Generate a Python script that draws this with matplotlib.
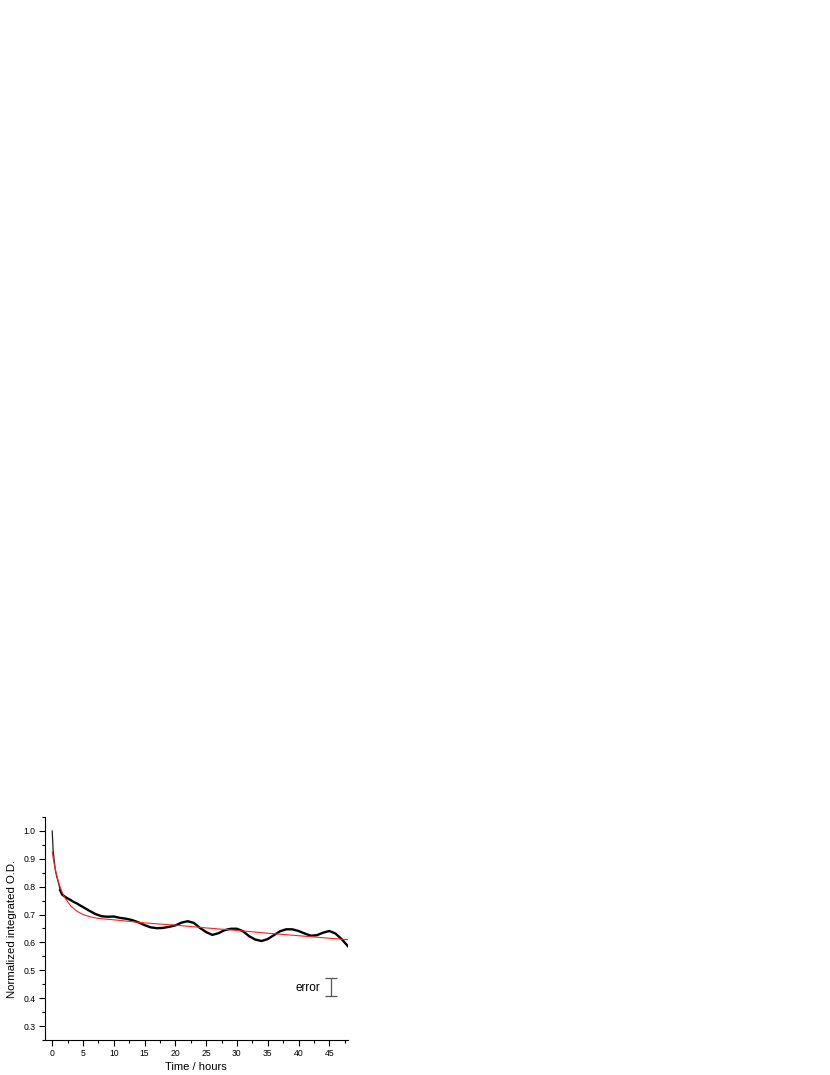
import matplotlib
matplotlib.use("Agg")
import matplotlib.pyplot as plt
from matplotlib.ticker import MultipleLocator

plt.rcParams['font.family'] = ['Liberation Sans', 'DejaVu Sans']

# measured data (black)
time_h = [0, 0.15, 0.3, 0.5, 0.75, 1, 1.3, 1.6, 2, 2.5, 3, 3.5, 4, 4.5, 5, 6, 7, 8, 9, 10,
          11, 12, 13, 14, 15, 16, 17, 18, 19, 20, 21, 22, 23, 24, 25, 26, 27, 28,
          29, 30, 31, 32, 33, 34, 35, 36, 37, 38, 39, 40, 41, 42, 43, 44, 45, 46, 47, 48]
od = [1.00, 0.93, 0.90, 0.86, 0.835, 0.815, 0.787, 0.772, 0.765, 0.758, 0.752, 0.745, 0.740,
      0.733, 0.727, 0.714, 0.702, 0.694, 0.692, 0.693,
      0.688, 0.685, 0.680, 0.672, 0.662, 0.654, 0.651, 0.652, 0.656, 0.661, 0.671, 0.676,
      0.670, 0.652, 0.637, 0.627, 0.633, 0.644, 0.649, 0.649, 0.640, 0.622, 0.610, 0.605,
      0.612, 0.626, 0.640, 0.647, 0.647, 0.641, 0.632, 0.624, 0.626, 0.635, 0.641, 0.632,
      0.612, 0.587]

# fit (red)
fit_t = [0, 0.25, 0.5, 1, 1.5, 2, 3, 4, 5, 6, 7, 8, 10, 15, 20, 25, 30, 35, 40, 45, 48]
fit_od = [0.925, 0.89, 0.862, 0.818, 0.785, 0.762, 0.731, 0.712, 0.700, 0.693, 0.688, 0.685,
          0.681, 0.670, 0.662, 0.652, 0.643, 0.633, 0.624, 0.615, 0.610]

# error bar
err_x = [45.3]
err_y = [0.441]
err_half = [0.033]

fig = plt.figure(figsize=(8.3, 10.75), dpi=100)
ax = fig.add_axes([0.054, 0.0326, 0.365, 0.2074])

n_thin = 7  # early, steep part is drawn thin in the reference
ax.plot(time_h[:n_thin], od[:n_thin], color='#222222', lw=0.9)
ax.plot(time_h[n_thin - 1:], od[n_thin - 1:], color='black', lw=1.7)
ax.plot(fit_t, fit_od, color='#ff2020', lw=0.8)
ax.errorbar(err_x, err_y, yerr=err_half, fmt='none', ecolor='#555555',
            elinewidth=0.9, capsize=4, capthick=0.9)
ax.text(43.5, 0.438, 'error', ha='right', va='center', fontsize=8.5)

ax.set_xlim(-1.2, 48)
ax.set_ylim(0.25, 1.05)
ax.xaxis.set_minor_locator(MultipleLocator(2.5))
ax.yaxis.set_minor_locator(MultipleLocator(0.05))
ax.set_xticks([0, 5, 10, 15, 20, 25, 30, 35, 40, 45])
ax.set_yticks([0.3, 0.4, 0.5, 0.6, 0.7, 0.8, 0.9, 1.0])
ax.set_yticklabels(['0.3', '0.4', '0.5', '0.6', '0.7', '0.8', '0.9', '1.0'])

for s in ['top', 'right']:
    ax.spines[s].set_visible(False)
for s in ['left', 'bottom']:
    ax.spines[s].set_linewidth(0.8)
ax.tick_params(which='major', direction='out', length=4, width=0.8, labelsize=6.2, pad=2.5)
ax.tick_params(which='minor', direction='out', length=2.2, width=0.8)

ax.set_xlabel('Time / hours', fontsize=8, labelpad=3)
ax.set_ylabel('Normalized integrated O.D.', fontsize=8.2, labelpad=5)

fig.savefig('out.png', dpi=100)
